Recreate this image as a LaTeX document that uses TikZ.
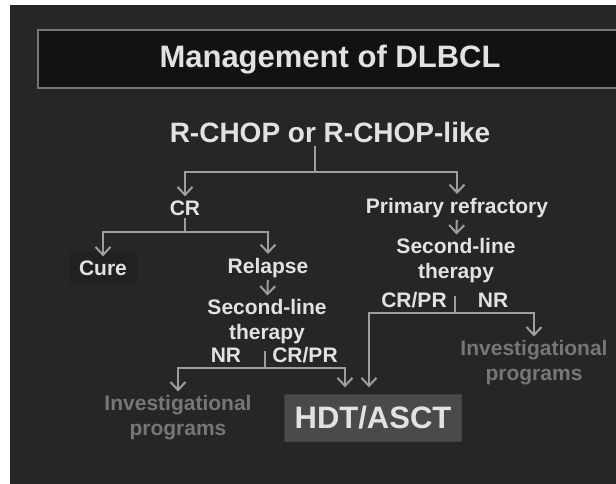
\documentclass[tikz,border=0pt]{standalone}
\usepackage{fontspec}
\setmainfont{Liberation Sans}
\usetikzlibrary{arrows.meta}
\definecolor{bgc}{RGB}{38,38,38}
\definecolor{fgc}{RGB}{226,226,226}
\definecolor{linec}{RGB}{158,158,158}
\definecolor{dimc}{RGB}{118,118,118}
\definecolor{hdtc}{RGB}{74,74,74}

\begin{document}
\begin{tikzpicture}[x=1pt,y=-1pt,
  lbl/.style={text=fgc,font=\fontsize{21}{25}\selectfont\bfseries,inner sep=2pt,align=center},
  inv/.style={lbl,text=dimc},
  ln/.style={draw=linec,line width=2pt},
  arr/.style={ln,-{Straight Barb[length=8pt,width=15pt]},shorten >=2pt}]
\useasboundingbox (0,0) rectangle (616,484);
\fill[white] (0,0) rectangle (616,484);
\fill[bgc] (10,5) rectangle (616,484);
% title bar
\draw[draw=dimc,fill=black!93,line width=1.5pt] (38,30) rectangle (640,88);
\node[text=fgc,font=\fontsize{31}{36}\selectfont\bfseries] (title) at (330,60) {Management of DLBCL};
\node[text=fgc,font=\fontsize{28}{32}\selectfont\bfseries] (rchop) at (330,132) {R-CHOP or R-CHOP-like};
% first level
\node[lbl] (cr) at (185,208) {CR};
\node[lbl] (prim) at (457,208) {Primary refractory};
\fill[bgc!88!black] (70,252) rectangle (137,284);
\node[lbl] (cure) at (103,268) {Cure};
\node[lbl] (relapse) at (268,268) {Relapse};
\node[lbl] (sl1) at (267,322) {Second-line\\therapy};
\node[lbl] (sl2) at (456,261) {Second-line\\therapy};
\node[lbl] (nr1) at (226,355) {NR};
\node[lbl] (crpr1) at (305,355) {CR/PR};
\node[lbl] (crpr2) at (414,300) {CR/PR};
\node[lbl] (nr2) at (493,300) {NR};
\node[inv] (inv1) at (178,418) {Investigational\\programs};
\node[inv] (inv2) at (534,363) {Investigational\\programs};
\node[fill=hdtc,draw=bgc!80!white,text=fgc,font=\fontsize{31}{36}\selectfont\bfseries,
  minimum width=177pt,minimum height=47pt,inner sep=0pt,rounded corners=1pt] (hdt) at (373,418) {HDT/ASCT};
% connectors
\coordinate (j1) at (315,172);
\coordinate (j2) at (185,232);
\coordinate (j3) at (265,368);
\coordinate (j4) at (455,313);
\draw[ln] (j1 |- rchop.south) -- (j1);
\draw[arr] (j1) -| (cr);
\draw[arr] (j1) -| (prim);
\draw[ln] (cr.south) -- (j2);
\draw[arr] (j2) -| (cure);
\draw[arr] (j2) -| (relapse);
\draw[arr] (relapse) -- (sl1);
\draw[arr] (prim) -- (sl2);
\draw[ln] (j3) -- ++(0,-17);
\draw[arr] (j3) -| (inv1);
\draw[arr,shorten >=7pt] (j3) -| ([xshift=-28pt]hdt.north);
\draw[ln] (j4) -- ++(0,-17);
\draw[arr] (j4) -| (inv2);
\draw[arr,shorten >=7pt] (j4) -| ([xshift=-4pt]hdt.north);
\end{tikzpicture}
\end{document}
